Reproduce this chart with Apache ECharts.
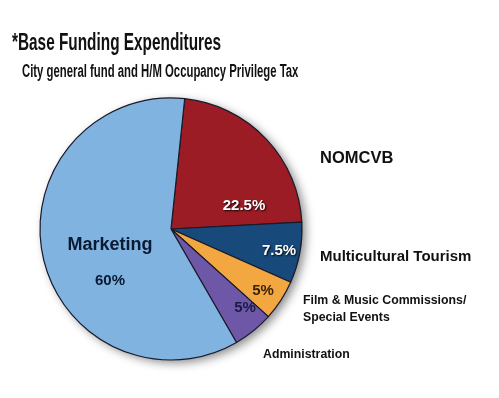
<!DOCTYPE html>
<html>
<head>
<meta charset="utf-8">
<script src="https://cdn.jsdelivr.net/npm/echarts@6/dist/echarts.min.js"></script>
<style>
  html, body { margin: 0; padding: 0; background: #fff; }
  #main { width: 499px; height: 398px; }
</style>
</head>
<body>
<div id="main"></div>
<script>
const chartDom = document.getElementById('main');
const myChart = echarts.init(chartDom);

// Slices, clockwise from the top
const categories = ['NOMCVB', 'Multicultural Tourism', 'Film & Music Commissions/\nSpecial Events', 'Administration', 'Marketing'];
const shares = [22.5, 7.5, 5, 5, 60];
const sliceColors = ['#9b1c25', '#174a7b', '#f2a740', '#6f57a8', '#80b3e0'];

// Where the labels sit (inside value labels, outside names)
const insideSpots = [[244, 206], [279, 251], [263, 291], [245, 308], [110, 263]];
const outsideSpots = [[320, 158], [320, 257], [303, 309], [263, 355]];
const outsideSizes = [16.5, 15, 12.3, 12.3];

const center = [171, 229];
const radius = 131;
const sans = 'Liberation Sans';

const insideRich = {
    white: { color: '#fff', fontFamily: sans, fontWeight: 'bold', fontSize: 15,
             textShadowColor: 'rgba(0,0,0,0.9)', textShadowBlur: 2, textShadowOffsetX: 1, textShadowOffsetY: 1 },
    brown: { color: '#3a2408', fontFamily: sans, fontWeight: 'bold', fontSize: 15 },
    navy: { color: '#1b1a45', fontFamily: sans, fontWeight: 'bold', fontSize: 15 },
    big: { color: '#0b1a33', fontFamily: sans, fontWeight: 'bold', fontSize: 18, lineHeight: 35 },
    pct: { color: '#0b1a33', fontFamily: sans, fontWeight: 'bold', fontSize: 15, lineHeight: 35 }
};
const insideStyle = ['white', 'white', 'brown', 'navy'];

const option = {
    backgroundColor: '#fff',
    animation: false,
    graphic: [
        {
            type: 'text', x: 12, y: 31, scaleX: 0.64,
            style: { text: '*Base Funding Expenditures', font: 'bold 24px "Liberation Sans"', fill: '#111' }
        },
        {
            type: 'text', x: 22, y: 63, scaleX: 0.63,
            style: { text: 'City general fund and H/M Occupancy Privilege Tax', font: 'bold 18px "Liberation Sans"', fill: '#111' }
        }
    ],
    series: [
        {
            // soft drop shadow under the whole pie
            type: 'pie',
            silent: true,
            center: center,
            radius: radius,
            label: { show: false },
            data: [{ value: shares.reduce((a, b) => a + b, 0) }],
            itemStyle: {
                color: '#80b3e0',
                shadowBlur: 10,
                shadowOffsetX: 4,
                shadowOffsetY: 3,
                shadowColor: 'rgba(0,0,0,0.45)'
            }
        },
        {
            type: 'pie',
            center: center,
            radius: radius,
            startAngle: 84,
            clockwise: true,
            avoidLabelOverlap: false,
            data: categories.map((name, i) => ({
                name: name,
                value: shares[i],
                itemStyle: { color: sliceColors[i] }
            })),
            itemStyle: { borderColor: '#1a1a2a', borderWidth: 1.2 },
            label: {
                show: true,
                position: 'inside',
                formatter: (p) => p.dataIndex === 4
                    ? '{big|Marketing}\n{pct|' + p.value + '%}'
                    : '{' + insideStyle[p.dataIndex] + '|' + p.value + '%}',
                rich: insideRich
            },
            labelLine: { show: false },
            labelLayout: (p) => ({
                x: insideSpots[p.dataIndex][0],
                y: insideSpots[p.dataIndex][1],
                align: 'center',
                verticalAlign: 'middle'
            })
        },
        {
            // transparent copy carrying the outside category names
            type: 'pie',
            silent: true,
            center: center,
            radius: radius,
            startAngle: 84,
            clockwise: true,
            avoidLabelOverlap: false,
            data: categories.slice(0, 4).map((name, i) => ({ name: name, value: shares[i] }))
                .concat([{ name: '', value: shares[4], label: { show: false } }]),
            itemStyle: { color: 'rgba(0,0,0,0)' },
            label: {
                show: true,
                position: 'outside',
                formatter: '{b}',
                color: '#111',
                fontFamily: sans,
                fontWeight: 'bold',
                fontSize: 12.3,
                lineHeight: 17
            },
            labelLine: { show: false },
            labelLayout: (p) => {
                const spot = outsideSpots[p.dataIndex] || [0, 0];
                return {
                    x: spot[0],
                    y: spot[1],
                    align: 'left',
                    verticalAlign: 'middle',
                    fontSize: outsideSizes[p.dataIndex] || 12
                };
            }
        }
    ]
};

myChart.setOption(option);
window.onresize = () => myChart.resize();
</script>
</body>
</html>
